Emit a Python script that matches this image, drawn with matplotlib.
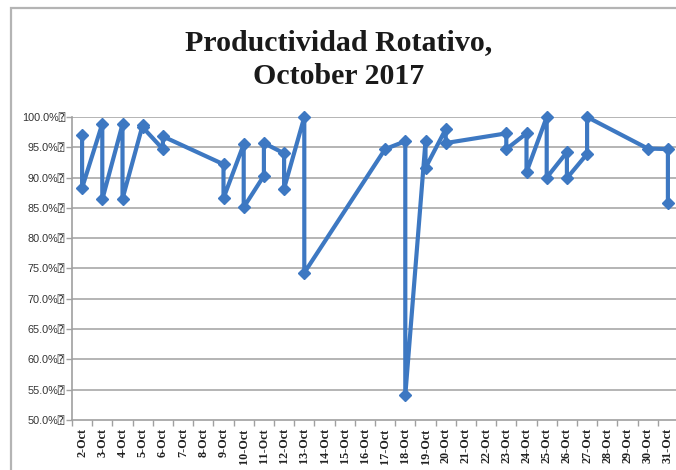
import matplotlib
matplotlib.use("Agg")
import matplotlib.pyplot as plt
from matplotlib.patches import Rectangle
from matplotlib.ticker import FixedLocator

# readings in the order the line visits them (day of October, productivity %)
days = [2, 2, 3, 3, 4, 4, 5, 5, 6, 6, 9, 9, 10, 10, 11, 11, 12, 12, 13, 13,
        17, 18, 18, 19, 19, 20, 20, 23, 23, 24, 24, 25, 25, 26, 26, 27, 27,
        30, 31, 31]
values = [97.0, 88.3, 98.9, 86.4, 98.8, 86.5, 98.7, 98.3, 94.7, 96.8,
          92.2, 86.6, 95.5, 85.1, 90.3, 95.7, 94.0, 88.2, 100.0, 74.3,
          94.7, 96.0, 54.1, 96.0, 91.6, 98.0, 95.7, 97.3, 94.7, 97.3,
          90.9, 100.0, 90.0, 94.2, 89.9, 93.9, 100.0, 94.8, 94.7, 85.8]
label_days = list(range(2, 32))
day_labels = ["{}-Oct".format(d) for d in label_days]
y_ticks = [50, 55, 60, 65, 70, 75, 80, 85, 90, 95, 100]

W, H = 676, 470
fig = plt.figure(figsize=(W / 100, H / 100), dpi=100)
fig.patch.set_facecolor("white")

# chart border (only left and top visible in the picture)
fig.patches.append(Rectangle((11 / W, -0.2), 1.2, 1.2 - 8 / H,
                             transform=fig.transFigure, fill=False,
                             edgecolor="#b4b4b4", lw=1.6))

ax = fig.add_axes([72 / W, 1 - 420 / H, (678 - 72) / W, (420 - 117) / H])
ax.set_xlim(1.5, 31.5)
ax.set_ylim(50, 100)

for y in y_ticks[1:]:
    ax.axhline(y, color="#a8a8a8", lw=1.2, zorder=1)

ax.plot(days, values, color="#3d78c2", lw=3.0, marker="D", markersize=6.5,
        markerfacecolor="#3d78c2", markeredgecolor="#3d78c2",
        clip_on=False, zorder=3)

for s in ["top", "right"]:
    ax.spines[s].set_visible(False)
ax.spines["left"].set_color("#a0a0a0")
ax.spines["bottom"].set_color("#a0a0a0")
ax.spines["left"].set_linewidth(1.2)
ax.spines["bottom"].set_linewidth(1.2)

ax.set_yticks(y_ticks)
ax.set_yticklabels(["{:.1f}%\u2370".format(v) for v in y_ticks],
                   family=["Liberation Sans", "DejaVu Sans", "DejaVu Sans Mono"],
                   fontsize=7.8, color="#333333")
ax.tick_params(axis="y", length=4, width=1, color="#a0a0a0", pad=1)

ax.set_xticks(label_days)
ax.set_xticklabels(day_labels, rotation=90, family="Liberation Serif",
                   fontweight="bold", fontsize=8.7, color="#222222")
ax.xaxis.set_minor_locator(FixedLocator([d + 0.5 for d in range(1, 32)]))
ax.tick_params(axis="x", which="major", length=0, pad=6)
ax.tick_params(axis="x", which="minor", length=4, width=1, color="#a0a0a0")

fig.text(339 / W, 1 - 29 / H, "Productividad Rotativo,\nOctober 2017",
         ha="center", va="top", family="Liberation Serif", fontweight="bold",
         fontsize=21.5, linespacing=1.32, color="#1a1a1a")

fig.savefig("out.png", dpi=100)
